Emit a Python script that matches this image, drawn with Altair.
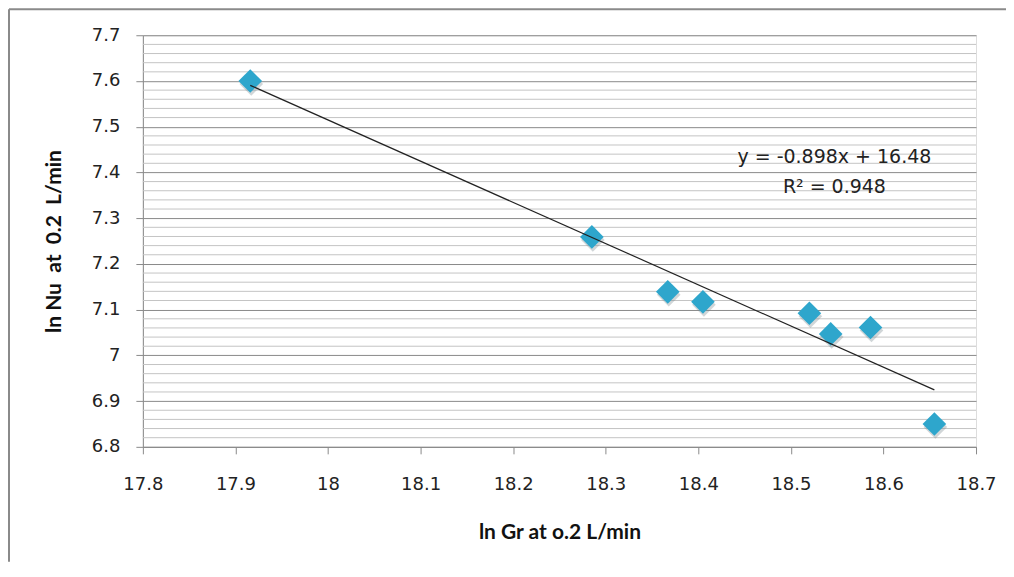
import altair as alt
import pandas as pd

# Data
ln_gr = [17.916, 18.285, 18.367, 18.405, 18.520, 18.543, 18.586, 18.655]
ln_nu = [7.600, 7.259, 7.139, 7.117, 7.092, 7.047, 7.061, 6.850]

x_ticks = [17.8, 17.9, 18.0, 18.1, 18.2, 18.3, 18.4, 18.5, 18.6, 18.7]
y_ticks = [6.8, 6.9, 7.0, 7.1, 7.2, 7.3, 7.4, 7.5, 7.6, 7.7]

eq_lines = ["y = -0.898x + 16.48", "R² = 0.948"]
eq_x = [18.547, 18.547]
eq_y = [7.434, 7.368]

df = pd.DataFrame({"gr": ln_gr, "nu": ln_nu})
minor = pd.DataFrame({"v": [round(t + k * 0.02, 2) for t in y_ticks[:-1] for k in range(1, 5)]})
eq = pd.DataFrame({"t": eq_lines, "x": eq_x, "y": eq_y})

W, H = 834, 412
FONT = "DejaVu Sans"
TFONT = "Lato"

xscale = alt.Scale(domain=[17.8, 18.7], nice=False, zero=False)
yscale = alt.Scale(domain=[6.8, 7.7], nice=False, zero=False)

xaxis = alt.Axis(values=x_ticks, format=".1~f", grid=False, tickSize=7,
                 domainColor="#8a8a8a", tickColor="#8a8a8a", labelFlush=False,
                 labelFont=FONT, labelFontSize=18, labelColor="#222",
                 labelPadding=22, title="ln Gr at o.2 L/min",
                 titleFont=TFONT, titleFontSize=21, titleFontWeight="bold",
                 titleColor="#111", titlePadding=28)
yaxis = alt.Axis(values=y_ticks, format=".1~f", grid=True, gridColor="#8a8a8a",
                 gridWidth=1, tickSize=7, domainColor="#8a8a8a", tickColor="#8a8a8a",
                 labelFlush=False,
                 labelFont=FONT, labelFontSize=18, labelColor="#222",
                 labelPadding=16, title="ln Nu\u00a0 at\u00a0 0.2\u00a0 L/min",
                 titleFont=TFONT, titleFontSize=21, titleFontWeight="bold",
                 titleColor="#111", titlePadding=27)

one = pd.DataFrame({"a": [0]})
frame_left = alt.Chart(one).mark_rule(color="#8a8a8a", strokeWidth=2).encode(
    x=alt.value(-134), y=alt.value(-26), y2=alt.value(H + 115))
frame_top = alt.Chart(one).mark_rule(color="#8a8a8a", strokeWidth=2).encode(
    x=alt.value(-134), x2=alt.value(W + 30), y=alt.value(-26))

minor_grid = alt.Chart(minor).mark_rule(color="#c4c4c4", strokeWidth=1).encode(
    y=alt.Y("v:Q", scale=yscale, axis=yaxis)
)

shadow = alt.Chart(df).mark_point(
    shape="diamond", filled=True, size=560, color="#7a8a90", opacity=0.35,
    xOffset=1, yOffset=3
).encode(x=alt.X("gr:Q", scale=xscale, axis=xaxis), y=alt.Y("nu:Q", scale=yscale, axis=yaxis))

points = alt.Chart(df).mark_point(
    shape="diamond", filled=True, size=560, color="#2ea6cc", opacity=1
).encode(x=alt.X("gr:Q", scale=xscale, axis=xaxis), y=alt.Y("nu:Q", scale=yscale, axis=yaxis))

trend = alt.Chart(df).transform_regression("gr", "nu").mark_line(
    color="#222", strokeWidth=1.2
).encode(x=alt.X("gr:Q", scale=xscale, axis=xaxis), y=alt.Y("nu:Q", scale=yscale, axis=yaxis))

label = alt.Chart(eq).mark_text(font=FONT, fontSize=19, color="#222", align="center",
                                baseline="middle").encode(
    x=alt.X("x:Q", scale=xscale, axis=xaxis), y=alt.Y("y:Q", scale=yscale, axis=yaxis), text="t:N"
)

chart = alt.layer(frame_left, frame_top, minor_grid, shadow, points, trend, label).properties(
    width=W, height=H,
    autosize=alt.AutoSizeParams(type="none"),
    padding={"left": 135, "top": 27, "right": 30, "bottom": 115},
).configure_view(stroke=None).configure(background="white")

chart.save("out.html", embed_options={"renderer": "svg", "actions": False})
